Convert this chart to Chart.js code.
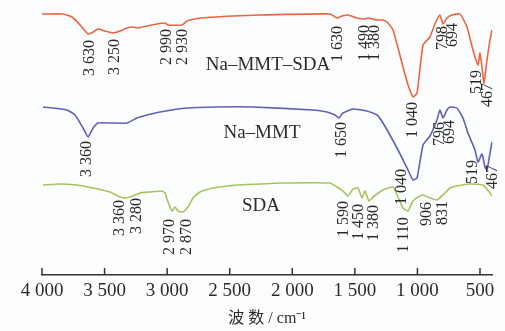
<!DOCTYPE html>
<html>
<head>
<meta charset="utf-8">
<script src="https://cdn.jsdelivr.net/npm/chart.js@4/dist/chart.umd.min.js"></script>
<style>
  html, body { margin: 0; padding: 0; background: #fcfdfe; }
  #wrap { width: 505px; height: 331px; }
</style>
</head>
<body>
<div id="wrap"><canvas id="irChart" width="505" height="331"></canvas></div>
<script>
// wavenumbers (cm-1) and relative transmittance (arbitrary units)
const mmtSdaWave = [4000, 3832, 3760, 3696, 3632, 3592, 3552, 3497, 3433, 3377, 3321, 3273, 3233, 3161, 3081, 3017, 2993, 2881, 2841, 2737, 2474, 2258, 1699, 1643, 1603, 1555, 1483, 1419, 1395, 1323, 1275, 1235, 1195, 1115, 1075, 1035, 1003, 955, 900, 860, 820, 796, 764, 724, 660, 604, 556, 516, 500, 484, 468, 444, 420, 404]
const mmtSdaT = [261, 261, 258, 250, 241, 243, 246, 244, 242, 244, 247, 248, 247, 249, 251, 252, 250, 250, 254, 257, 259, 260, 261, 257, 259, 260, 257, 256, 257, 255, 255, 252, 245, 208, 190, 178, 182, 230, 238, 251, 260, 251, 257, 260, 261, 248, 225, 210, 222, 208, 192, 215, 235, 245]

const mmtWave = [3992, 3800, 3736, 3672, 3632, 3592, 3552, 3457, 3321, 3241, 3161, 3057, 2841, 2602, 2314, 1834, 1723, 1659, 1627, 1595, 1515, 1403, 1323, 1275, 1163, 1083, 1035, 1003, 955, 900, 844, 820, 796, 764, 740, 684, 636, 596, 540, 516, 484, 460, 444, 420, 404]
const mmtT = [168, 165, 160, 147, 138, 147, 152, 152, 152, 157, 160, 163, 167, 168, 168, 165, 163, 160, 157, 162, 166, 164, 160, 152, 127, 107, 95, 97, 130, 139, 155, 165, 157, 165, 168, 167, 157, 142, 125, 113, 121, 108, 105, 122, 133]

const sdaWave = [3992, 3856, 3720, 3592, 3457, 3377, 3337, 3297, 3217, 3137, 3041, 3017, 2993, 2961, 2937, 2913, 2873, 2833, 2793, 2737, 2634, 2442, 2258, 2098, 1699, 1643, 1595, 1555, 1515, 1475, 1443, 1419, 1387, 1355, 1275, 1195, 1155, 1115, 1075, 1035, 995, 955, 900, 844, 796, 740, 684, 580, 476, 420, 404]
const sdaT = [90, 91, 90, 87, 83, 78, 77, 78, 82, 83, 84, 82, 73, 64, 68, 64, 63, 68, 77, 83, 87, 90, 91, 92, 92, 88, 84, 79, 86, 87, 77, 84, 74, 78, 85, 88, 78, 67, 64, 74, 78, 80, 77, 75, 80, 87, 89, 91, 90, 82, 79]

// peak labels: text, wavenumber where it sits, height
const mmtSdaPeaks = [['3 630', 3616, 217], ['3 250', 3417, 218], ['2 990', 3001, 228], ['2 930', 2873, 228],
  ['1 630', 1635, 231], ['1 490', 1419, 232], ['1 380', 1339, 232], ['1 040', 1035, 155],
  ['798', 796, 237], ['694', 716, 240], ['519', 524, 193], ['467', 436, 180]]
const mmtPeaks = [['3 360', 3640, 116], ['1 650', 1603, 135], ['1 040', 1123, 88],
  ['796', 820, 141], ['694', 740, 143], ['519', 556, 103], ['467', 398, 98]]
const sdaPeaks = [['3 360', 3377, 57], ['3 280', 3241, 59], ['2 970', 2977, 38], ['2 870', 2841, 38],
  ['1 590', 1587, 56], ['1 450', 1467, 53], ['1 380', 1347, 52], ['1 110', 1107, 40],
  ['906', 924, 61], ['831', 796, 62]]

const seriesNames = [['Na–MMT–SDA', 2194, 210], ['Na–MMT', 2242, 142], ['SDA', 2250, 69]]
const tickVals = [4000, 3500, 3000, 2500, 2000, 1500, 1000, 500]

const serif = '"Liberation Serif", "Noto Sans CJK SC", serif'
const textColor = '#2b2b2b'

const toPoints = (xs, ys) => xs.map((v, i) => ({ x: v, y: ys[i] }))

const annotate = {
    id: 'annotate',
    beforeDraw(chart) {
        const ctx = chart.ctx
        ctx.save()
        ctx.fillStyle = '#fcfdfe'
        ctx.fillRect(0, 0, chart.width, chart.height)
        ctx.restore()
    },
    afterDraw(chart) {
        const ctx = chart.ctx
        const x = chart.scales.x
        const y = chart.scales.y
        ctx.save()
        // tick marks pointing up from the axis
        ctx.strokeStyle = '#333'
        ctx.lineWidth = 1.5
        x.ticks.forEach((t) => {
            const px = x.getPixelForValue(t.value)
            ctx.beginPath()
            ctx.moveTo(px, x.top)
            ctx.lineTo(px, x.top - 7)
            ctx.stroke()
        })
        ctx.fillStyle = textColor
        ctx.textAlign = 'center'
        ctx.textBaseline = 'middle'
        ctx.font = '16px ' + serif
        mmtSdaPeaks.concat(mmtPeaks, sdaPeaks).forEach(([txt, wn, h]) => {
            ctx.save()
            ctx.translate(x.getPixelForValue(wn), y.getPixelForValue(h))
            ctx.rotate(-Math.PI / 2)
            ctx.fillText(txt, 0, 0)
            ctx.restore()
        })
        ctx.font = '19px ' + serif
        seriesNames.forEach(([txt, wn, h]) => {
            ctx.fillText(txt, x.getPixelForValue(wn), y.getPixelForValue(h))
        })
        ctx.restore()
    }
}

const ctx = document.getElementById('irChart').getContext('2d')
const irChart = new Chart(ctx, {
    type: 'line',
    data: {
        datasets: [
            { label: 'Na–MMT–SDA', data: toPoints(mmtSdaWave, mmtSdaT), borderColor: '#e8673f' },
            { label: 'Na–MMT', data: toPoints(mmtWave, mmtT), borderColor: '#5c62b5' },
            { label: 'SDA', data: toPoints(sdaWave, sdaT), borderColor: '#a6c45e' }
        ]
    },
    options: {
        responsive: false,
        animation: false,
        layout: { padding: { left: 42, right: 12.5, top: 0, bottom: 0 } },
        elements: {
            line: { borderWidth: 1.6, tension: 0.15, fill: false },
            point: { radius: 0 }
        },
        plugins: { legend: { display: false }, tooltip: { enabled: false } },
        scales: {
            x: {
                type: 'linear',
                reverse: true,
                min: 400,
                max: 4000,
                afterBuildTicks: (scale) => { scale.ticks = tickVals.map((v) => ({ value: v })) },
                afterFit: (scale) => { scale.height = 56; scale.paddingLeft = 0; scale.paddingRight = 0 },
                grid: { display: false, drawTicks: false },
                border: { display: true, color: '#333', width: 1.5 },
                ticks: {
                    padding: 5,
                    maxRotation: 0,
                    autoSkip: false,
                    color: textColor,
                    font: { family: serif, size: 19 },
                    callback: (v) => (v >= 1000 ? String(v).replace(/(\d)(\d{3})$/, '$1 $2') : String(v))
                },
                title: {
                    display: true,
                    text: '波 数 / cm⁻¹',
                    color: textColor,
                    font: { family: serif, size: 16 },
                    padding: { top: 0, bottom: 3 }
                }
            },
            y: { display: false, min: 0, max: 275 }
        }
    },
    plugins: [annotate]
})
</script>
</body>
</html>
